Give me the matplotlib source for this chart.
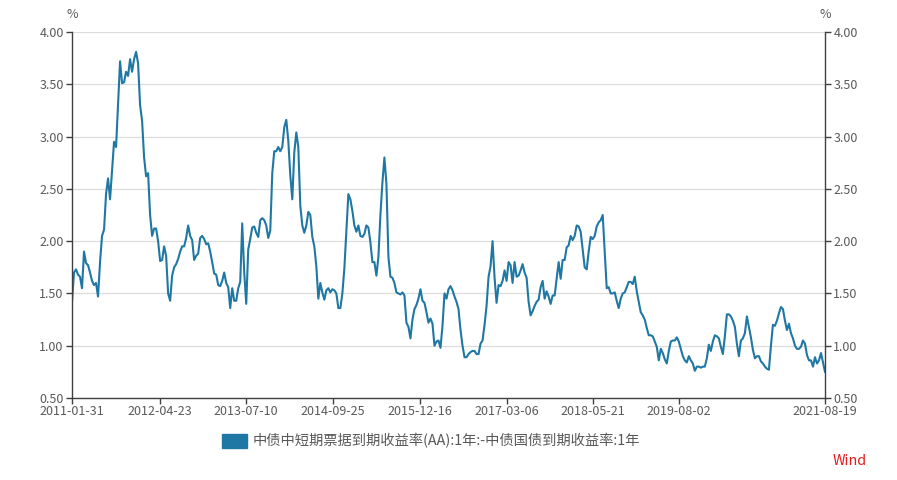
import matplotlib
matplotlib.use("Agg")
import matplotlib.pyplot as plt
import pandas as pd
import numpy as np

plt.rcParams['font.family'] = ['Noto Sans CJK SC', 'DejaVu Sans']

start_date = "2011-01-31"
end_date = "2021-08-19"

vals_2011_2012 = [1.42,1.70,1.73,1.68,1.66,1.55,1.90,1.79,1.77,1.70,
                  1.62,1.58,1.60,1.47,1.80,2.05,2.11,2.45,2.60,2.40,
                  2.68,2.95,2.90,3.30,3.72,3.51,3.52,3.62,3.58,3.74,
                  3.62,3.74,3.81,3.70,3.30,3.15,2.80,2.62,2.65,2.25,
                  2.05,2.12,2.12,2.00,1.81,1.82,1.95,1.86,1.50,1.43,
                  1.67,1.75,1.78,1.83,1.90,1.95,1.95,2.03,2.15,2.05,
                  2.01,1.82,1.86,1.88,2.03,2.05,2.02,1.97,1.98,1.90,
                  1.80,1.69,1.68,1.58,1.57,1.62,1.70]
vals_2013_2014 = [1.60,1.56,1.36,1.55,1.43,1.43,1.55,1.61,2.17,1.70,
                  1.40,1.92,2.02,2.13,2.14,2.08,2.04,2.20,2.22,2.20,
                  2.15,2.03,2.10,2.65,2.86,2.86,2.90,2.86,2.90,3.09,
                  3.16,2.96,2.63,2.40,2.85,3.04,2.90,2.34,2.15,2.08,
                  2.15,2.28,2.25,2.04,1.95,1.76,1.45,1.60,1.51,1.44,
                  1.53,1.55,1.51,1.54,1.53,1.50,1.36,1.36,1.50,1.74,
                  2.09,2.45,2.40,2.29,2.15,2.09,2.15,2.05,2.04,2.07,
                  2.15,2.13,1.99,1.80,1.80]
vals_2015_2016 = [1.67,1.85,2.25,2.56,2.80,2.55,1.85,1.66,1.65,1.60,
                  1.51,1.50,1.49,1.51,1.48,1.22,1.18,1.07,1.25,1.35,
                  1.39,1.45,1.54,1.43,1.41,1.32,1.22,1.26,1.21,1.00,
                  1.04,1.05,0.98,1.19,1.50,1.45,1.54,1.57,1.53,1.47,
                  1.42,1.35,1.15,1.00,0.89,0.89,0.92,0.94,0.95,0.95,
                  0.92,0.92,1.02,1.05,1.20,1.38,1.66,1.76,2.00,1.65,
                  1.41,1.58,1.57,1.62,1.72,1.62,1.80,1.77,1.60,1.80,
                  1.66,1.67,1.72,1.78,1.70]
vals_2017_2019 = [1.65,1.42,1.29,1.33,1.38,1.42,1.44,1.56,1.62,1.45,
                  1.52,1.47,1.40,1.48,1.48,1.64,1.80,1.64,1.82,1.82,
                  1.94,1.96,2.05,2.01,2.05,2.15,2.14,2.09,1.92,1.75,
                  1.73,1.90,2.04,2.02,2.05,2.14,2.18,2.20,2.25,1.90,
                  1.55,1.56,1.50,1.50,1.51,1.43,1.36,1.45,1.50,1.51,
                  1.56,1.61,1.61,1.59,1.66,1.52,1.42,1.32,1.29,1.25,
                  1.17,1.10,1.10,1.09,1.04,0.99,0.86,0.97,0.93,0.87,
                  0.83,0.95,1.04,1.05,1.05]
vals_2019_2021 = [1.08,1.04,0.97,0.90,0.86,0.84,0.90,0.86,0.83,0.76,
                  0.80,0.80,0.79,0.80,0.80,0.88,1.01,0.95,1.04,1.10,
                  1.09,1.07,0.99,0.92,1.09,1.30,1.30,1.28,1.24,1.18,
                  1.02,0.90,1.05,1.07,1.12,1.28,1.18,1.08,0.96,0.88,
                  0.90,0.90,0.85,0.83,0.80,0.78,0.77,1.00,1.20,1.19,
                  1.24,1.31,1.37,1.35,1.24,1.15,1.21,1.12,1.07,1.00,
                  0.97,0.97,0.99,1.05,1.02,0.91,0.86,0.86,0.80,0.89,
                  0.83,0.86,0.93,0.84,0.75]

x_tick_labels = ["2011-01-31", "2012-04-23", "2013-07-10", "2014-09-25",
                 "2015-12-16", "2017-03-06", "2018-05-21", "2019-08-02",
                 "2021-08-19"]
y_ticks = [0.5, 1.0, 1.5, 2.0, 2.5, 3.0, 3.5, 4.0]

series_name = "中债中短期票据到期收益率(AA):1年:-中债国债到期收益率:1年"

values = vals_2011_2012 + vals_2013_2014 + vals_2015_2016 + vals_2017_2019 + vals_2019_2021
dates = pd.date_range(start_date, end_date, periods=len(values))

line_color = "#1f78a3"
text_color = "#595959"
spine_color = "#404040"

fig = plt.figure(figsize=(8.97, 4.80), dpi=100)
ax = fig.add_axes([72/897, 82/480, (825-72)/897, (398-32)/480])

ax.plot(dates, values, color=line_color, lw=1.5, solid_joinstyle='round')

ax.set_ylim(0.5, 4.0)
ax.set_xlim(pd.Timestamp(start_date), pd.Timestamp(end_date))
ax.set_yticks(y_ticks)
ax.set_yticklabels([f"{v:.2f}" for v in y_ticks])
tick_dates = pd.to_datetime(x_tick_labels)
ax.set_xticks(tick_dates)
ax.set_xticklabels(x_tick_labels)

ax.grid(axis='y', color='#dcdcdc', lw=0.9)
ax.set_axisbelow(True)
ax.spines['top'].set_visible(False)
for s in ['left', 'right', 'bottom']:
    ax.spines[s].set_color(spine_color)
    ax.spines[s].set_linewidth(1.0)

ax.tick_params(axis='both', colors=spine_color, labelcolor=text_color,
               labelsize=9, length=4, width=1.0, direction='out')
ax.tick_params(axis='y', right=True, labelright=True, pad=2)
ax.tick_params(axis='x', pad=1)

fig.text(72/897, 1 - 15/480, "%", ha='center', va='center', color=text_color, fontsize=9)
fig.text(825/897, 1 - 15/480, "%", ha='center', va='center', color=text_color, fontsize=9)

# legend
from matplotlib.patches import Rectangle
fig.patches.append(Rectangle((222/897, 1 - 448/480), 25/897, 14/480,
                             transform=fig.transFigure, color=line_color))
fig.text(253/897, 1 - 441/480, series_name, ha='left', va='center',
         color=text_color, fontsize=10.3)

fig.text(850/897, 1 - 461/480, "Wind", ha='center', va='center',
         color="#e41a1c", fontsize=10.3)

fig.savefig("out.png", dpi=100)
